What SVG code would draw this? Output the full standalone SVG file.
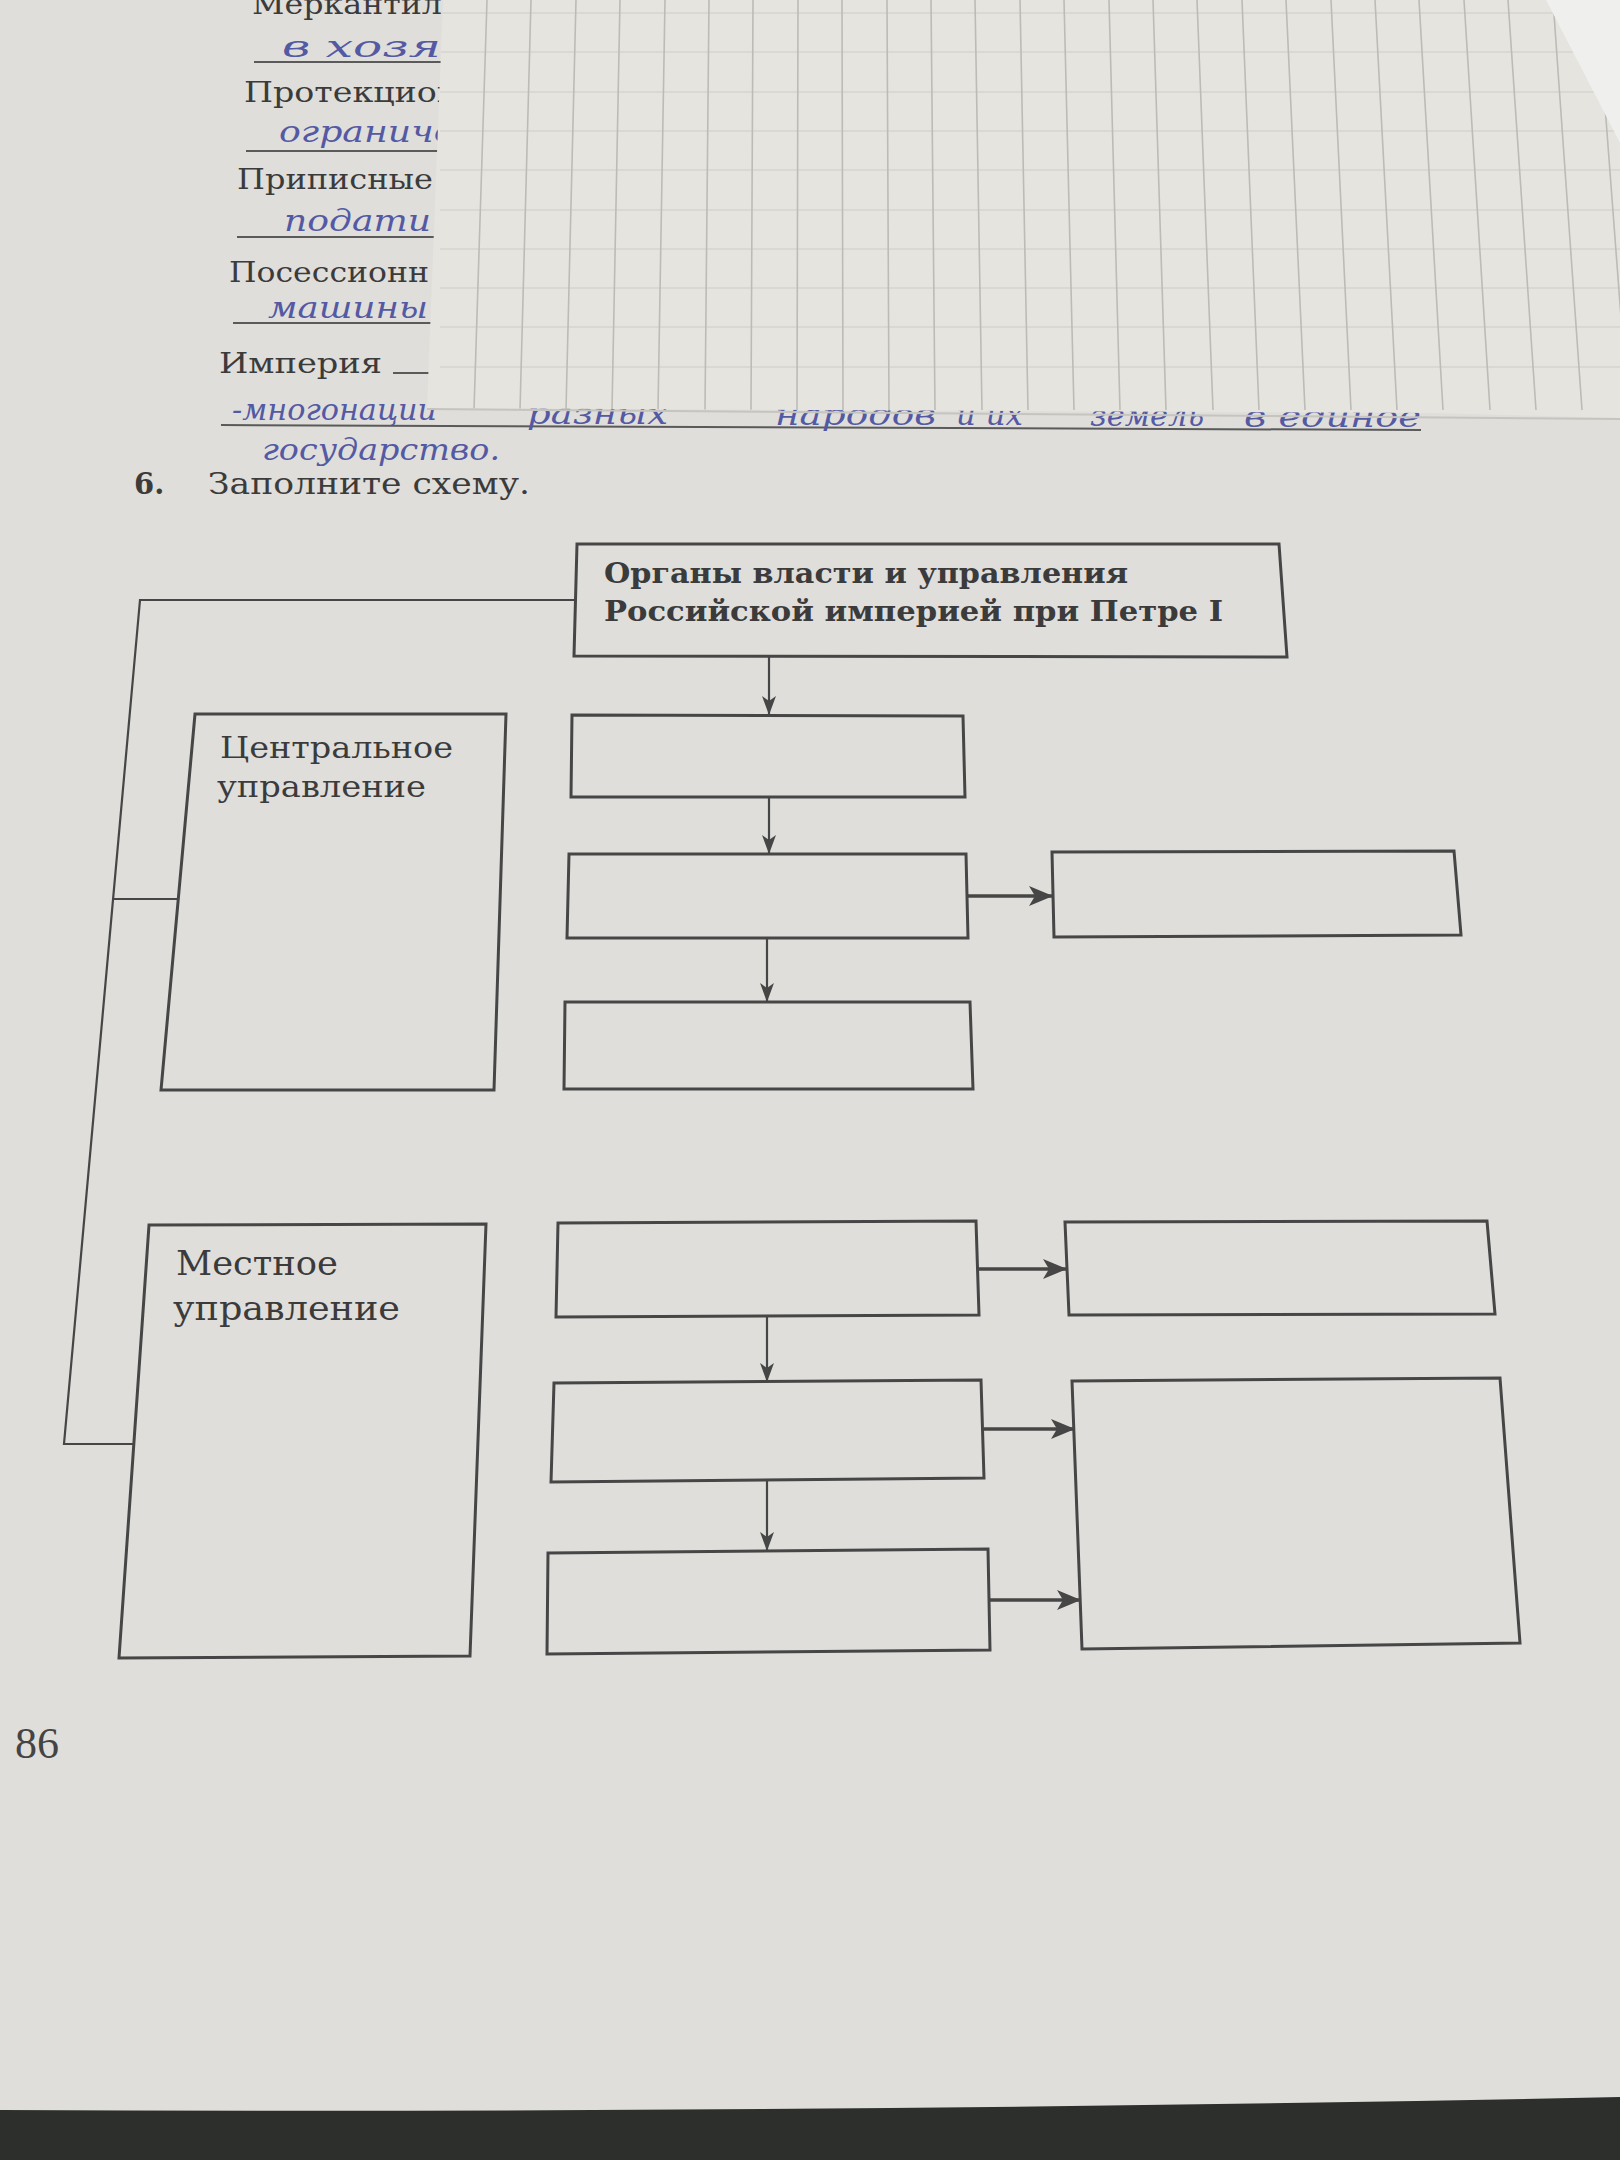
<svg xmlns="http://www.w3.org/2000/svg" width="1620" height="2160" viewBox="0 0 1620 2160">
<defs>
<style>
.print{font-family:"DejaVu Serif","Liberation Serif",serif;fill:#3b3b3b}
.hand{font-family:"DejaVu Serif","Liberation Serif",serif;font-style:italic;fill:#5459a3;font-size:29px}
.box{fill:none;stroke:#464646;stroke-width:3;stroke-linejoin:miter}
.conn{fill:none;stroke:#464646;stroke-width:2.2}
.thick{fill:none;stroke:#464646;stroke-width:3.5}
.rule{stroke:#5a5a5a;stroke-width:2;fill:none}
</style>
<marker id="ah" markerUnits="userSpaceOnUse" markerWidth="20" markerHeight="16" refX="19" refY="7" orient="auto">
<path d="M0,0 L19,7 L0,14 L5,7 Z" fill="#464646"/>
</marker>
<marker id="ahb" markerUnits="userSpaceOnUse" markerWidth="26" markerHeight="22" refX="24" refY="10" orient="auto">
<path d="M0,0 L24,10 L0,20 L6,10 Z" fill="#464646"/>
</marker>
<clipPath id="paperClip">
<polygon points="443,0 1546,0 1620,143 1620,418 1433,413 427,408"/>
</clipPath>
</defs>

<!-- page background -->
<rect x="0" y="0" width="1620" height="2160" fill="#dfdedb"/>
<path d="M0,2110 Q800,2114 1620,2097 L1620,2160 L0,2160 Z" fill="#2d2f2c"/>

<!-- printed words of previous exercise -->
<g id="prev-exercise">
<text class="print" x="252" y="14" font-size="27" textLength="190" lengthAdjust="spacingAndGlyphs">Меркантил</text>
<text class="print" x="244" y="102" font-size="27" textLength="215" lengthAdjust="spacingAndGlyphs">Протекцион</text>
<text class="print" x="237" y="189" font-size="27" textLength="196" lengthAdjust="spacingAndGlyphs">Приписные</text>
<text class="print" x="229" y="282" font-size="27" textLength="200" lengthAdjust="spacingAndGlyphs">Посессионн</text>
<text class="print" x="219" y="373" font-size="27" textLength="163" lengthAdjust="spacingAndGlyphs">Империя</text>
<line class="rule" x1="393" y1="373" x2="432" y2="373"/>
<line class="rule" x1="254" y1="62" x2="445" y2="62"/>
<line class="rule" x1="246" y1="151" x2="445" y2="151"/>
<line class="rule" x1="237" y1="237" x2="440" y2="237"/>
<line class="rule" x1="233" y1="323" x2="435" y2="323"/>
<line class="rule" x1="221" y1="425" x2="1421" y2="430"/>
</g>

<!-- handwriting -->
<g id="handwriting">
<text class="hand" x="282" y="57" textLength="190" lengthAdjust="spacingAndGlyphs">в хозяй</text>
<text class="hand" x="279" y="142" textLength="200" lengthAdjust="spacingAndGlyphs">ограничен</text>
<text class="hand" x="284" y="231" textLength="147" lengthAdjust="spacingAndGlyphs">подати</text>
<text class="hand" x="268" y="318" textLength="160" lengthAdjust="spacingAndGlyphs">машины</text>
<text class="hand" x="232" y="420" textLength="205" lengthAdjust="spacingAndGlyphs">-многонации</text>
<text class="hand" x="527" y="424" textLength="141" lengthAdjust="spacingAndGlyphs">разных</text>
<text class="hand" x="775" y="425" textLength="161" lengthAdjust="spacingAndGlyphs">народов</text>
<text class="hand" x="956" y="425" textLength="67" lengthAdjust="spacingAndGlyphs">и их</text>
<text class="hand" x="1090" y="426" textLength="114" lengthAdjust="spacingAndGlyphs">земель</text>
<text class="hand" x="1244" y="427" textLength="177" lengthAdjust="spacingAndGlyphs">в единое</text>
<text class="hand" x="262" y="460" textLength="238" lengthAdjust="spacingAndGlyphs">государство.</text>
</g>

<!-- grid paper overlay -->
<g id="grid-paper">
<polygon points="443,0 1546,0 1620,143 1620,418 1433,413 427,408" fill="#e6e4df"/>
<polygon points="1546,0 1620,0 1620,143" fill="#efefed"/>
<g clip-path="url(#paperClip)">
<path d="M440,13 L1620,13 M440,52 L1620,52 M440,92 L1620,92 M440,131 L1620,131 M440,170 L1620,170 M440,210 L1620,210 M440,249 L1620,249 M440,288 L1620,288 M440,327 L1620,327 M440,367 L1620,367" stroke="#d6d4cf" stroke-width="1.5" fill="none"/>
<path d="M487,0 L474,410 M531,0 L520,410 M576,0 L566,410 M620,0 L612,410 M665,0 L658,410 M709,0 L705,410 M753,0 L751,410 M798,0 L797,410 M842,0 L843,410 M887,0 L889,410 M931,0 L935,410 M975,0 L982,410 M1020,0 L1028,410 M1064,0 L1074,410 M1109,0 L1120,410 M1153,0 L1166,410 M1197,0 L1213,410 M1242,0 L1259,410 M1286,0 L1305,410 M1331,0 L1351,410 M1375,0 L1397,410 M1419,0 L1443,410 M1464,0 L1490,410 M1508,0 L1536,410 M1553,0 L1582,410 M1597,0 L1628,410" stroke="#bdbbb6" stroke-width="1.6" fill="none"/>
</g>
<line x1="427" y1="409" x2="1620" y2="419" stroke="#c6c4bf" stroke-width="2"/>
</g>

<!-- exercise heading -->
<g id="heading">
<text class="print" x="134" y="494" font-size="29" font-weight="bold">6.</text>
<text class="print" x="208" y="494" font-size="29" textLength="322" lengthAdjust="spacingAndGlyphs">Заполните схему.</text>
</g>

<!-- connectors -->
<g id="connectors">
<polyline class="conn" points="576,600 140,600 64,1444 134,1444"/>
<line class="conn" x1="113" y1="899" x2="178" y2="899"/>
<line class="conn" x1="769" y1="657" x2="769" y2="715" marker-end="url(#ah)"/>
<line class="conn" x1="769" y1="797" x2="769" y2="854" marker-end="url(#ah)"/>
<line class="thick" x1="968" y1="896" x2="1053" y2="896" marker-end="url(#ahb)"/>
<line class="conn" x1="767" y1="938" x2="767" y2="1002" marker-end="url(#ah)"/>
<line class="thick" x1="979" y1="1269" x2="1067" y2="1269" marker-end="url(#ahb)"/>
<line class="conn" x1="767" y1="1317" x2="767" y2="1382" marker-end="url(#ah)"/>
<line class="thick" x1="984" y1="1429" x2="1075" y2="1429" marker-end="url(#ahb)"/>
<line class="conn" x1="767" y1="1480" x2="767" y2="1551" marker-end="url(#ah)"/>
<line class="thick" x1="990" y1="1600" x2="1081" y2="1600" marker-end="url(#ahb)"/>
</g>

<!-- nodes -->
<g id="node-top">
<polygon class="box" points="577,544 1279,544 1287,657 574,656"/>
<text class="print" x="604" y="583" font-size="27" font-weight="bold" textLength="524" lengthAdjust="spacingAndGlyphs">Органы власти и управления</text>
<text class="print" x="604" y="621" font-size="27" font-weight="bold" textLength="619" lengthAdjust="spacingAndGlyphs">Российской империей при Петре I</text>
</g>
<g id="node-central">
<polygon class="box" points="195,714 506,714 494,1090 161,1090"/>
<text class="print" x="220" y="758" font-size="30" textLength="233" lengthAdjust="spacingAndGlyphs">Центральное</text>
<text class="print" x="217" y="797" font-size="30" textLength="209" lengthAdjust="spacingAndGlyphs">управление</text>
</g>
<g id="node-c1"><polygon class="box" points="572,715 963,716 965,797 571,797"/></g>
<g id="node-c2"><polygon class="box" points="569,854 966,854 968,938 567,938"/></g>
<g id="node-c2-right"><polygon class="box" points="1052,852 1454,851 1461,935 1054,937"/></g>
<g id="node-c3"><polygon class="box" points="565,1002 970,1002 973,1089 564,1089"/></g>

<g id="node-local">
<polygon class="box" points="149,1225 486,1224 470,1656 119,1658"/>
<text class="print" x="176" y="1275" font-size="33" textLength="162" lengthAdjust="spacingAndGlyphs">Местное</text>
<text class="print" x="173" y="1320" font-size="33" textLength="227" lengthAdjust="spacingAndGlyphs">управление</text>
</g>
<g id="node-l1"><polygon class="box" points="558,1223 976,1221 979,1315 556,1317"/></g>
<g id="node-l1-right"><polygon class="box" points="1065,1222 1487,1221 1495,1314 1069,1315"/></g>
<g id="node-l2"><polygon class="box" points="554,1383 981,1380 984,1478 551,1482"/></g>
<g id="node-l23-right"><polygon class="box" points="1072,1381 1500,1378 1520,1643 1082,1649"/></g>
<g id="node-l3"><polygon class="box" points="548,1553 988,1549 990,1650 547,1654"/></g>

<!-- page number -->
<text id="page-number" x="15" y="1758" font-family="'Liberation Serif',serif" font-size="44" fill="#444">86</text>
</svg>
